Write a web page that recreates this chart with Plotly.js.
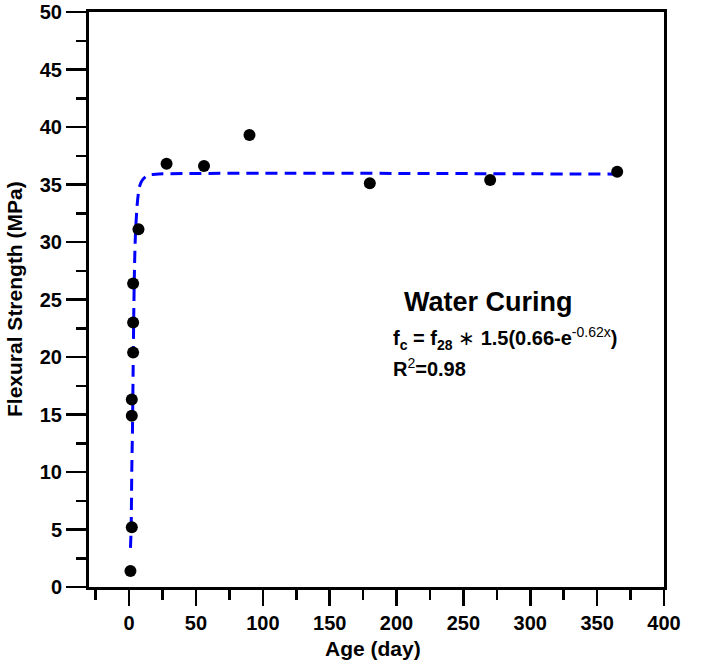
<!DOCTYPE html>
<html>
<head>
<meta charset="utf-8">
<script src="https://cdn.plot.ly/plotly-3.0.1.min.js"></script>
<style>html,body{margin:0;padding:0;background:#fff;}#chart{width:720px;height:660px;}</style>
</head>
<body>
<div id="chart"></div>
<script>
// Measured data (age in days, flexural strength in MPa)
const ageDays = [1, 2, 2, 2, 3, 3, 3, 7, 28, 56, 90, 180, 270, 365];
const strengthMPa = [1.4, 5.2, 14.9, 16.3, 20.4, 23.0, 26.4, 31.1, 36.8, 36.6, 39.3, 35.1, 35.4, 36.1];

// Fitted curve
const fitAge = [1, 1.5, 2, 2.5, 3, 3.5, 4, 4.5, 5, 6, 7, 8, 10, 14, 20, 365];
const fitStrength = [3.4, 5.0, 10.2, 13.6, 18.9, 24.0, 27.6, 29.9, 31.3, 33.2, 34.3, 34.9, 35.4, 35.8, 35.9, 35.9];

const xTickVals = [0, 50, 100, 150, 200, 250, 300, 350, 400];
const yTickVals = [0, 5, 10, 15, 20, 25, 30, 35, 40, 45, 50];

const FONT = 'Liberation Sans, Arial, sans-serif';

const traces = [
  {
    x: fitAge, y: fitStrength, type: 'scatter', mode: 'lines',
    line: {color: '#0000ff', width: 3, dash: '12px,7px', shape: 'spline', smoothing: 0.7},
    hoverinfo: 'skip', showlegend: false
  },
  {
    x: ageDays, y: strengthMPa, type: 'scatter', mode: 'markers',
    marker: {color: '#000000', size: 12},
    showlegend: false, cliponaxis: false
  }
];

const axisCommon = {
  showline: true, linewidth: 3, linecolor: '#000', mirror: true,
  showgrid: false, zeroline: false,
  ticks: 'outside', tickcolor: '#000', tickwidth: 2.5,
  tickfont: {family: FONT, size: 20, color: '#000'}
};

const layout = {
  width: 720, height: 660,
  margin: {l: 89, r: 56, t: 12, b: 73},
  paper_bgcolor: '#fff', plot_bgcolor: '#fff',
  showlegend: false,
  xaxis: Object.assign({}, axisCommon, {
    range: [-30, 400], tickmode: 'array', tickvals: xTickVals,
    ticktext: xTickVals.map(v => '<b>' + v + '</b>'),
    ticklen: 16,
    minor: {dtick: 25, tick0: 0, ticks: 'outside', ticklen: 10, tickwidth: 2.5, tickcolor: '#000', showgrid: false}
  }),
  yaxis: Object.assign({}, axisCommon, {
    range: [0, 50], tickmode: 'array', tickvals: yTickVals,
    ticktext: yTickVals.map(v => '<b>' + v + '</b>'),
    ticklen: 20,
    minor: {dtick: 2.5, tick0: 0, ticks: 'outside', ticklen: 10, tickwidth: 2.5, tickcolor: '#000', showgrid: false}
  }),
  annotations: [
    {text: '<b>Age (day)</b>', xref: 'paper', yref: 'paper', x: (373 - 89) / 575, y: 0, yshift: -61,
     xanchor: 'center', yanchor: 'middle', showarrow: false, font: {family: FONT, size: 21, color: '#000'}},
    {text: '<b>Flexural Strength (MPa)</b>', xref: 'paper', yref: 'paper', x: 0, xshift: -75, y: (587 - 299) / 575,
     xanchor: 'center', yanchor: 'middle', textangle: -90, showarrow: false, font: {family: FONT, size: 21, color: '#000'}},
    {text: '<b>Water Curing</b>', xref: 'x', yref: 'y', x: 204, y: 24.8,
     xanchor: 'left', yanchor: 'middle', showarrow: false, font: {family: FONT, size: 27, color: '#000'}},
    {text: '<b>f<sub>c</sub> = f<sub>28</sub></b> \u2217 <b>1.5(0.66-e</b><sup>-0.62x</sup><b>)</b>', xref: 'x', yref: 'y', x: 196, y: 21.6,
     xanchor: 'left', yanchor: 'middle', showarrow: false, font: {family: FONT, size: 20, color: '#000'}},
    {text: '<b>R</b><sup>2</sup><b>=0.98</b>', xref: 'x', yref: 'y', x: 196, y: 19.1,
     xanchor: 'left', yanchor: 'middle', showarrow: false, font: {family: FONT, size: 20, color: '#000'}}
  ]
};

Plotly.newPlot('chart', traces, layout, {displayModeBar: false, staticPlot: true});
</script>
</body>
</html>
